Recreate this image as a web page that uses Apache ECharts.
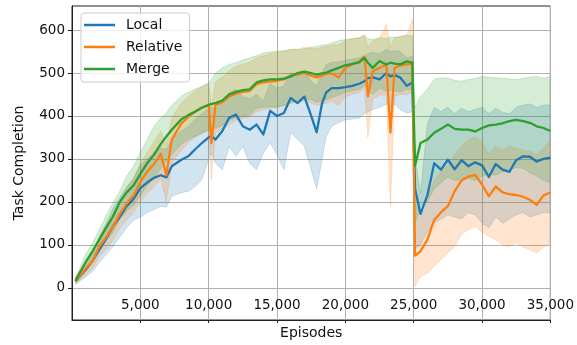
<!DOCTYPE html>
<html>
<head>
<meta charset="utf-8">
<script src="https://cdn.jsdelivr.net/npm/echarts@6/dist/echarts.min.js"></script>
<style>html,body{margin:0;padding:0;background:#fff}#chart{width:577px;height:345px}</style>
</head>
<body>
<div id="chart"></div>
<script>
const episodes = [250, 1000, 1500, 2000, 2500, 3000, 3500, 4000, 4500, 5000,
  5500, 6000, 6500, 6900, 7300, 8000, 8500, 9000, 9500, 10000,
  10200, 10500, 11000, 11500, 12000, 12500, 13000, 13500, 14000, 14500,
  15000, 15500, 16000, 16500, 17000, 17500, 17900, 18300, 18600, 19000,
  19500, 20000, 20500, 21000, 21400, 21650, 22000, 22500, 23000, 23300,
  23600, 24000, 24500, 24900, 25100, 25500, 26000, 26500, 27000, 27500,
  28000, 28500, 29000, 29500, 30000, 30500, 31000, 31500, 32000, 32500,
  33000, 33500, 34000, 34500, 35000];

const localMean = [15, 42, 62, 89, 115, 143, 165, 190, 207, 232,
  245, 256, 262, 257, 283, 298, 306, 322, 337, 350,
  353, 345, 365, 396, 403, 376, 368, 380, 357, 412,
  400, 407, 442, 430, 445, 400, 362, 430, 455, 465,
  465, 467, 470, 475, 481, 488, 490, 485, 500, 492,
  495, 490, 470, 478, 230, 172, 215, 290, 275, 298,
  276, 297, 283, 292, 285, 258, 288, 275, 270, 297,
  306, 305, 294, 300, 303];
const localLo = [8, 25, 38, 58, 78, 96, 118, 140, 158, 165,
  175, 182, 190, 188, 213, 221, 225, 235, 252, 300,
  314, 290, 275, 329, 306, 329, 290, 275, 314, 337,
  310, 275, 361, 345, 330, 275, 230, 300, 353, 376,
  384, 391, 393, 395, 405, 410, 415, 420, 428, 420,
  428, 415, 407, 410, 90, 100, 130, 150, 160, 170,
  165, 160, 175, 170, 150, 140, 165, 150, 160, 170,
  175, 165, 170, 175, 175];
const localHi = [22, 58, 85, 118, 150, 185, 210, 235, 255, 285,
  300, 315, 325, 322, 345, 365, 375, 392, 405, 418,
  420, 415, 430, 455, 462, 445, 440, 450, 435, 475,
  465, 470, 500, 495, 505, 480, 470, 500, 520, 525,
  525, 530, 532, 535, 540, 545, 548, 545, 555, 550,
  552, 550, 535, 540, 300, 220, 380, 420, 410, 420,
  405, 418, 410, 415, 420, 405, 418, 408, 405, 420,
  425, 428, 420, 425, 425];

const relativeMean = [15, 45, 62, 96, 118, 143, 172, 196, 215, 247,
  270, 288, 312, 262, 345, 382, 398, 410, 420, 425,
  337, 425, 432, 445, 452, 456, 458, 474, 478, 480,
  482, 485, 494, 496, 500, 494, 490, 494, 498, 499,
  490, 512, 520, 526, 538, 446, 504, 512, 520, 361,
  512, 517, 520, 522, 75, 85, 112, 158, 176, 190,
  225, 250, 259, 263, 240, 213, 236, 222, 218, 216,
  212, 205, 193, 215, 222];
const relativeLo = [8, 30, 45, 72, 90, 112, 138, 158, 175, 200,
  220, 235, 255, 200, 290, 320, 338, 350, 360, 365,
  250, 362, 370, 382, 390, 395, 398, 410, 415, 418,
  420, 424, 430, 432, 435, 430, 425, 428, 430, 435,
  425, 445, 450, 455, 465, 350, 440, 448, 450, 190,
  445, 450, 450, 455, 3, 26, 34, 50, 65, 81,
  96, 125, 135, 143, 130, 120, 112, 100, 96, 104,
  95, 89, 81, 95, 104];
const relativeHi = [22, 60, 82, 120, 145, 175, 205, 232, 255, 290,
  315, 340, 365, 330, 395, 430, 445, 458, 468, 475,
  420, 480, 490, 505, 515, 520, 525, 535, 540, 545,
  548, 550, 555, 555, 560, 558, 556, 560, 562, 565,
  565, 575, 580, 582, 590, 560, 575, 580, 613, 560,
  582, 585, 588, 625, 200, 160, 200, 250, 270, 285,
  310, 330, 345, 350, 340, 310, 330, 320, 330, 325,
  320, 318, 310, 325, 345];

const mergeMean = [16, 60, 85, 112, 140, 166, 200, 222, 238, 265,
  290, 310, 335, 352, 368, 392, 402, 410, 419, 426,
  428, 430, 436, 450, 456, 460, 462, 478, 483, 485,
  485, 487, 492, 500, 503, 500, 496, 499, 501, 506,
  512, 518, 521, 525, 535, 524, 512, 528, 520, 524,
  522, 520, 527, 524, 285, 337, 345, 361, 370, 380,
  370, 368, 368, 364, 372, 378, 380, 383, 388, 391,
  388, 384, 376, 372, 365];
const mergeLo = [10, 42, 62, 85, 108, 130, 160, 178, 192, 215,
  238, 255, 278, 295, 310, 335, 345, 352, 360, 368,
  370, 372, 378, 390, 396, 400, 402, 418, 420, 422,
  420, 425, 430, 437, 440, 438, 432, 436, 438, 443,
  448, 455, 458, 462, 470, 462, 450, 465, 458, 460,
  458, 456, 462, 460, 150, 190, 200, 230, 245, 258,
  250, 252, 255, 250, 260, 265, 262, 270, 275, 280,
  278, 268, 260, 250, 245];
const mergeHi = [22, 78, 105, 135, 168, 198, 225, 260, 283, 315,
  345, 376, 395, 407, 425, 446, 455, 462, 469, 477,
  485, 500, 512, 520, 524, 530, 535, 540, 547, 549,
  551, 552, 555, 555, 556, 560, 562, 565, 566, 570,
  575, 578, 580, 582, 586, 580, 578, 582, 580, 584,
  583, 584, 588, 586, 420, 446, 462, 485, 489, 488,
  483, 481, 485, 487, 492, 490, 489, 488, 486, 485,
  488, 490, 492, 488, 492];

const yTicks = [0, 100, 200, 300, 400, 500, 600];
const seriesNames = ['Local', 'Relative', 'Merge'];
const seriesColors = ['#1f77b4', '#ff7f0e', '#2ca02c'];

const groups = [
  [localMean, localLo, localHi],
  [relativeMean, relativeLo, relativeHi],
  [mergeMean, mergeLo, mergeHi]
];

function pairs(ys) { return episodes.map((x, i) => [x, ys[i]]); }

function bandSeries(name, color, lo, hi) {
  return {
    name: name + ' band', type: 'custom', silent: true, clip: true,
    data: episodes.map((x, i) => [x, lo[i], hi[i]]),
    encode: { x: 0, y: [1, 2] },
    renderItem: function (params, api) {
      if (params.dataIndex !== 0) return null;
      const top = episodes.map((x, i) => api.coord([x, hi[i]]));
      const bot = episodes.map((x, i) => api.coord([x, lo[i]]));
      const poly = top.concat(bot.slice().reverse());
      return {
        type: 'group',
        children: [
          { type: 'polygon', shape: { points: poly }, style: { fill: color, opacity: 0.2 } },
          { type: 'polyline', shape: { points: top }, style: { stroke: color, fill: null, lineWidth: 1, opacity: 0.2 } },
          { type: 'polyline', shape: { points: bot }, style: { stroke: color, fill: null, lineWidth: 1, opacity: 0.2 } }
        ]
      };
    }
  };
}

const series = [];
groups.forEach((g, k) => {
  const name = seriesNames[k], color = seriesColors[k];
  const [mean, lo, hi] = g;
  series.push({
    name: name, type: 'line', data: pairs(mean), symbol: 'none', showSymbol: false,
    lineStyle: { width: 2.3, color: color, join: 'round' }, itemStyle: { color: color }
  });
  series.push(bandSeries(name, color, lo, hi));
});

const font = 'DejaVu Sans';
const chart = echarts.init(document.getElementById('chart'), null, { renderer: 'canvas' });
chart.setOption({
  animation: false,
  backgroundColor: '#fff',
  grid: { left: 72, right: 24, top: 6, bottom: 25, show: true, borderColor: '#222', borderWidth: 1, backgroundColor: 'transparent' },
  legend: {
    data: seriesNames, orient: 'vertical', left: 81, top: 13,
    icon: 'rect', itemWidth: 31, itemHeight: 2.5, itemGap: 6,
    padding: [4, 7, 5, 3],
    backgroundColor: 'rgba(255,255,255,0.8)', borderColor: '#cccccc', borderWidth: 1, borderRadius: 3,
    textStyle: { fontSize: 14, fontFamily: font, color: '#111', lineHeight: 16, padding: [0, 0, 0, 6] }
  },
  xAxis: {
    type: 'value', min: 0, max: 35000, interval: 5000,
    name: 'Episodes', nameLocation: 'middle', nameGap: 5,
    nameTextStyle: { fontSize: 14, fontFamily: font, color: '#111', verticalAlign: 'top' },
    axisLine: { show: true, onZero: false, lineStyle: { color: '#222' } },
    axisTick: { show: true, inside: false, length: 3, lineStyle: { color: '#222' } },
    axisLabel: {
      inside: true, margin: 8, fontSize: 13.5, fontFamily: font, color: '#111',
      showMinLabel: false, showMaxLabel: true,
      formatter: v => v === 0 ? '' : v.toLocaleString('en-US')
    },
    splitLine: { show: true, lineStyle: { color: '#b0b0b0', width: 1 } }
  },
  yAxis: {
    type: 'value', min: -75, max: 656, splitNumber: 7,
    name: 'Task Completion', nameLocation: 'middle', nameGap: 46, nameRotate: 90,
    nameTextStyle: { fontSize: 14, fontFamily: font, color: '#111' },
    axisLine: { show: true, onZero: false, lineStyle: { color: '#222' } },
    axisTick: { show: true, length: 4, customValues: yTicks, lineStyle: { color: '#222' } },
    axisLabel: { customValues: yTicks, margin: 7, fontSize: 13.5, fontFamily: font, color: '#111' },
    splitLine: { show: true, lineStyle: { color: '#b0b0b0', width: 1 } }
  },
  series: series
});
</script>
</body>
</html>
